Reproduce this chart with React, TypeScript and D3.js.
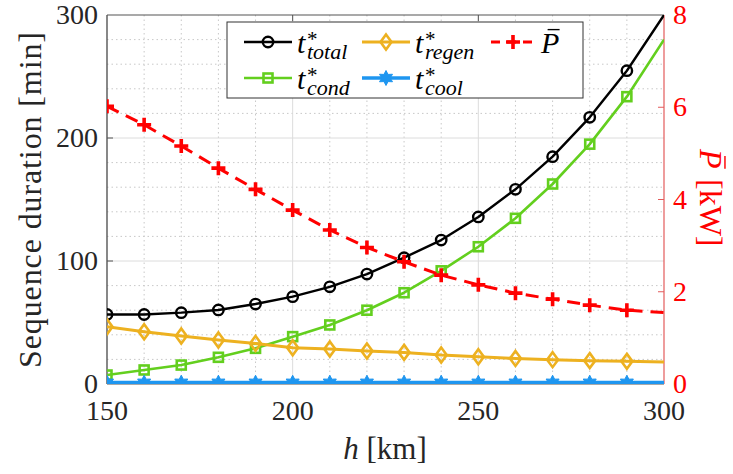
import React, { useEffect, useRef } from "react";
import * as d3 from "d3";

// ---- data ----
const altitudes = [150, 160, 170, 180, 190, 200, 210, 220, 230, 240, 250, 260, 270, 280, 290, 300];
const tTotal = [56.5, 56.5, 58, 60.2, 65, 71, 79, 89.4, 102.7, 117, 135.8, 158.3, 184.8, 216.8, 254.7, 300];
const tCond = [7.3, 11.4, 15.4, 21.7, 29, 38.5, 48, 60, 74.2, 92, 111.6, 134.7, 162.6, 195, 233.6, 280];
const tRegen = [46.6, 42.5, 39, 35.8, 33, 29.5, 28.5, 26.8, 25.7, 23.6, 22.2, 20.8, 19.8, 19, 18.4, 17.8];
const tCool = [1, 1, 1, 1, 1, 1, 1, 1, 1, 1, 1, 1, 1, 1, 1, 1];
const pBar = [6.02, 5.62, 5.16, 4.68, 4.22, 3.77, 3.34, 2.96, 2.65, 2.36, 2.15, 1.97, 1.84, 1.71, 1.6, 1.55];

const xTicks = [150, 200, 250, 300];
const yLeftTicks = [0, 100, 200, 300];
const yRightTicks = [0, 2, 4, 6, 8];
const xMinor = [160, 170, 180, 190, 210, 220, 230, 240, 260, 270, 280, 290];
const yMinor = [20, 40, 60, 80, 120, 140, 160, 180, 220, 240, 260, 280];

const C_BLACK = "#000000";
const C_GREEN = "#63cf1e";
const C_ORANGE = "#edb120";
const C_BLUE = "#1e96f0";
const C_RED = "#ff0000";
const FAMILY = '"Liberation Serif", "Tinos", "DejaVu Serif"';

const L = 107, R = 664, T = 15, B = 384;

function hexagramPath(r: number) {
  const pts: string[] = [];
  for (let i = 0; i < 12; i++) {
    const a = (Math.PI / 6) * i - Math.PI / 2;
    const rr = i % 2 === 0 ? r : r * 0.55;
    pts.push(`${(Math.cos(a) * rr).toFixed(2)},${(Math.sin(a) * rr).toFixed(2)}`);
  }
  return "M" + pts.join("L") + "Z";
}

function Marker({ kind, x, y, color }: { kind: string; x: number; y: number; color: string }) {
  if (kind === "circle")
    return <circle cx={x} cy={y} r={5.2} fill="none" stroke={color} strokeWidth={2.4} />;
  if (kind === "square")
    return <rect x={x - 4.5} y={y - 4.5} width={9} height={9} fill="none" stroke={color} strokeWidth={2.6} />;
  if (kind === "diamond")
    return (
      <path d={`M${x},${y - 7.5}L${x + 5.5},${y}L${x},${y + 7.5}L${x - 5.5},${y}Z`} fill="none" stroke={color} strokeWidth={2.6} />
    );
  if (kind === "hexagram")
    return <path d={hexagramPath(7.5)} transform={`translate(${x},${y})`} fill={color} stroke={color} strokeWidth={1} />;
  if (kind === "plus")
    return (
      <path d={`M${x - 7},${y}L${x + 7},${y}M${x},${y - 7}L${x},${y + 7}`} stroke={color} strokeWidth={3.6} fill="none" />
    );
  return null;
}

export default function App() {
  const ref = useRef<SVGSVGElement | null>(null);

  useEffect(() => {
    const apply = () => {
      if (!ref.current) return;
      d3.select(ref.current)
        .selectAll("text, tspan")
        .each(function () {
          (this as SVGElement).style.setProperty("font-family", FAMILY, "important");
        });
    };
    apply();
    if ((document as any).fonts && (document as any).fonts.ready) {
      (document as any).fonts.ready.then(apply);
    }
  }, []);

  const x = d3.scaleLinear().domain([150, 300]).range([L, R]);
  const yL = d3.scaleLinear().domain([0, 300]).range([B, T]);
  const yR = d3.scaleLinear().domain([0, 8]).range([B, T]);

  const lineL = (vals: number[]) =>
    d3.line<number>().x((_, i) => x(altitudes[i])).y((v) => yL(v))(vals) as string;
  const lineR = (vals: number[]) =>
    d3.line<number>().x((_, i) => x(altitudes[i])).y((v) => yR(v))(vals) as string;

  const series = [
    { vals: tTotal, color: C_BLACK, marker: "circle", width: 2.4 },
    { vals: tCond, color: C_GREEN, marker: "square", width: 2.6 },
    { vals: tRegen, color: C_ORANGE, marker: "diamond", width: 3 },
    { vals: tCool, color: C_BLUE, marker: "hexagram", width: 4 },
  ];

  const markIdx = altitudes.map((_, i) => i).filter((i) => i < altitudes.length - 1);

  const legendRows = [42, 78];
  const legendItems = [
    { col: 244, row: 0, color: C_BLACK, marker: "circle", sub: "total", width: 2.4 },
    { col: 362, row: 0, color: C_ORANGE, marker: "diamond", sub: "regen", width: 3 },
    { col: 244, row: 1, color: C_GREEN, marker: "square", sub: "cond", width: 2.6 },
    { col: 362, row: 1, color: C_BLUE, marker: "hexagram", sub: "cool", width: 3.6 },
  ];

  const tx = { fontFamily: FAMILY };

  const pbar = (px: number, py: number, size: number, color: string) => (
    <g>
      <text x={px} y={py} fontSize={size} fontStyle="italic" fill={color} style={tx}>P</text>
      <line x1={px + size * 0.22} x2={px + size * 0.62} y1={py - size * 0.78} y2={py - size * 0.78} stroke={color} strokeWidth={size * 0.045} />
    </g>
  );

  return (
    <svg ref={ref} width={733} height={474} style={{ position: "absolute", left: 0, top: 0, fontFamily: FAMILY }}>
      <defs>
        <clipPath id="plotClip">
          <rect x={L} y={T} width={R - L} height={B - T} />
        </clipPath>
      </defs>
      <rect x={0} y={0} width={733} height={474} fill="#fff" />

      {xMinor.map((v) => (
        <line key={"xm" + v} x1={x(v)} x2={x(v)} y1={T} y2={B} stroke="#c8c8c8" strokeWidth={1} strokeDasharray="1.5,3" />
      ))}
      {yMinor.map((v) => (
        <line key={"ym" + v} x1={L} x2={R} y1={yL(v)} y2={yL(v)} stroke="#c8c8c8" strokeWidth={1} strokeDasharray="1.5,3" />
      ))}
      {xTicks.slice(1, -1).map((v) => (
        <line key={"xg" + v} x1={x(v)} x2={x(v)} y1={T} y2={B} stroke="#dcdcdc" strokeWidth={1} />
      ))}
      {yLeftTicks.slice(1, -1).map((v) => (
        <line key={"yg" + v} x1={L} x2={R} y1={yL(v)} y2={yL(v)} stroke="#dcdcdc" strokeWidth={1} />
      ))}

      <line x1={L} x2={R} y1={T} y2={T} stroke="#555" strokeWidth={1.2} />
      <line x1={L} x2={R} y1={B} y2={B} stroke="#555" strokeWidth={1.2} />
      <line x1={L} x2={L} y1={T} y2={B} stroke="#555" strokeWidth={1.4} />
      <line x1={R} x2={R} y1={T} y2={B} stroke="#e35b5b" strokeWidth={1.2} />

      {xTicks.slice(1, -1).map((v) => (
        <g key={"xt" + v}>
          <line x1={x(v)} x2={x(v)} y1={T} y2={T + 6} stroke="#555" strokeWidth={1} />
          <line x1={x(v)} x2={x(v)} y1={B} y2={B - 6} stroke="#555" strokeWidth={1} />
        </g>
      ))}
      {yLeftTicks.slice(1, -1).map((v) => (
        <line key={"ylt" + v} x1={L} x2={L + 6} y1={yL(v)} y2={yL(v)} stroke="#555" strokeWidth={1} />
      ))}
      {yRightTicks.slice(1, -1).map((v) => (
        <line key={"yrt" + v} x1={R} x2={R - 6} y1={yR(v)} y2={yR(v)} stroke="#e35b5b" strokeWidth={1} />
      ))}

      <g clipPath="url(#plotClip)">
        {series.map((s, si) => (
          <g key={"s" + si}>
            <path d={lineL(s.vals)} fill="none" stroke={s.color} strokeWidth={s.width} strokeLinejoin="round" />
            {markIdx.map((i) => (
              <Marker key={i} kind={s.marker} x={x(altitudes[i])} y={yL(s.vals[i])} color={s.color} />
            ))}
          </g>
        ))}
        <path d={lineR(pBar)} fill="none" stroke={C_RED} strokeWidth={3} strokeDasharray="13,8" />
        {markIdx.map((i) => (
          <Marker key={"p" + i} kind="plus" x={x(altitudes[i])} y={yR(pBar[i])} color={C_RED} />
        ))}
      </g>

      {xTicks.map((v) => (
        <text key={"xl" + v} x={x(v)} y={420} textAnchor="middle" fontSize={28} fill="#262626" style={tx}>
          {String(v)}
        </text>
      ))}
      {yLeftTicks.map((v) => (
        <text key={"yll" + v} x={98} y={yL(v) + 9} textAnchor="end" fontSize={28} fill="#262626" style={tx}>
          {String(v)}
        </text>
      ))}
      {yRightTicks.map((v) => (
        <text key={"yrl" + v} x={673} y={yR(v) + 9} textAnchor="start" fontSize={28} fill={C_RED} style={tx}>
          {String(v)}
        </text>
      ))}

      <text x={385} y={459} textAnchor="middle" fontSize={31} fill="#262626" style={tx}>
        <tspan fontStyle="italic">h</tspan>
        <tspan> [km]</tspan>
      </text>
      <text
        transform="translate(41,200) rotate(-90)"
        textAnchor="middle"
        fontSize={32}
        fill="#262626"
        textLength={336}
        lengthAdjust="spacing"
        style={tx}
      >
        Sequence duration [min]
      </text>
      <g transform="translate(700,199) rotate(90)">
        {pbar(-50, 0, 32, C_RED)}
        <text x={-20} y={0} fontSize={32} fill={C_RED} style={tx}>[kW]</text>
      </g>

      <rect x={227} y={22} width={356} height={76} fill="#fff" stroke="#333" strokeWidth={1} />
      {legendItems.map((it, k) => {
        const yy = legendRows[it.row];
        return (
          <g key={"lg" + k}>
            <line x1={it.col} x2={it.col + 48} y1={yy} y2={yy} stroke={it.color} strokeWidth={it.width} />
            <Marker kind={it.marker} x={it.col + 24} y={yy} color={it.color} />
            <text x={it.col + 53} y={yy + 11} fontSize={30} fontStyle="italic" fill="#000" style={tx}>t</text>
            <text x={it.col + 63} y={yy + 4} fontSize={21} fill="#000" style={tx}>*</text>
            <text x={it.col + 63} y={yy + 17} fontSize={22} fontStyle="italic" fill="#000" style={tx}>{it.sub}</text>
          </g>
        );
      })}
      <line x1={489} x2={538} y1={42} y2={42} stroke={C_RED} strokeWidth={3} strokeDasharray="9,7" strokeDashoffset={-2} />
      <Marker kind="plus" x={513} y={42} color={C_RED} />
      {pbar(541, 53, 30, "#000")}
    </svg>
  );
}
